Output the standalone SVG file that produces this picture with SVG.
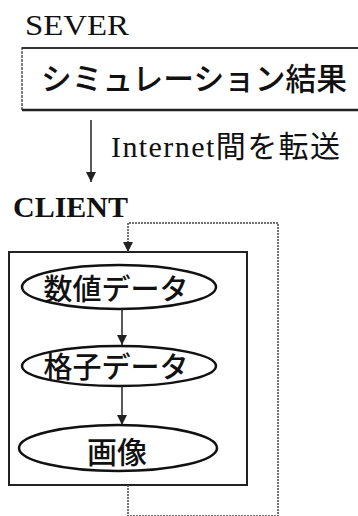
<svg xmlns="http://www.w3.org/2000/svg" width="358" height="516" viewBox="0 0 358 516">
<defs>
<marker id="ah" markerUnits="userSpaceOnUse" markerWidth="12" markerHeight="12" viewBox="0 0 12 12" refX="11" refY="6" orient="auto">
<path d="M1,1 L11,6 L1,11 Z" fill="#222"/>
</marker>
</defs>
<style>
.lat{font-family:"Liberation Serif","Noto Sans CJK JP",serif;fill:#111}
.jp{font-family:"Noto Sans CJK JP",sans-serif;fill:#111;font-weight:500}
.box{fill:#fff;stroke:#222;stroke-width:2}
.ell{fill:#fff;stroke:#111;stroke-width:2.5}
.link{fill:none;stroke:#222;stroke-width:1.5}
.loop{fill:none;stroke:#444;stroke-width:1.5;stroke-dasharray:2 1}
</style>
<rect width="358" height="516" fill="#fff"/>
<g id="server">
<text class="lat" x="25" y="35" font-size="30" textLength="104" lengthAdjust="spacingAndGlyphs">SEVER</text>
<rect x="22" y="48" width="345" height="62" fill="#fff" stroke="#555" stroke-width="1.5" stroke-dasharray="3 1"/>
<line x1="22" y1="48" x2="358" y2="48" stroke="#333" stroke-width="1.8"/>
<line x1="22" y1="110" x2="358" y2="110" stroke="#222" stroke-width="2.5"/>
<text class="jp" x="41" y="90" font-size="31" textLength="306" lengthAdjust="spacingAndGlyphs">シミュレーション結果</text>
</g>
<g id="client">
<text class="lat" x="13" y="217" font-size="29" font-weight="bold" textLength="115" lengthAdjust="spacingAndGlyphs">CLIENT</text>
<rect class="box" x="9" y="252" width="238" height="233"/>
</g>
<g id="n1">
<ellipse class="ell" cx="119" cy="287" rx="97" ry="22"/>
<text class="jp" x="116" y="300" font-size="29" text-anchor="middle">数値データ</text>
</g>
<g id="n2">
<ellipse class="ell" cx="119" cy="366" rx="97" ry="20"/>
<text class="jp" x="116" y="378" font-size="29" text-anchor="middle">格子データ</text>
</g>
<g id="n3">
<ellipse class="ell" cx="118" cy="448" rx="99" ry="23"/>
<text class="jp" x="117" y="463" font-size="30" text-anchor="middle">画像</text>
</g>
<g id="connectors">
<line class="link" x1="91" y1="120" x2="91" y2="182" marker-end="url(#ah)"/>
<text class="lat" x="111" y="157" font-size="30" textLength="229" lengthAdjust="spacing">Internet間を転送</text>
<line class="link" x1="122" y1="309" x2="122" y2="345" marker-end="url(#ah)"/>
<line class="link" x1="122" y1="386" x2="122" y2="425" marker-end="url(#ah)"/>
<path class="loop" d="M128,485 V516 H278 V223 H128 V252" marker-end="url(#ah)"/>
</g>
</svg>
